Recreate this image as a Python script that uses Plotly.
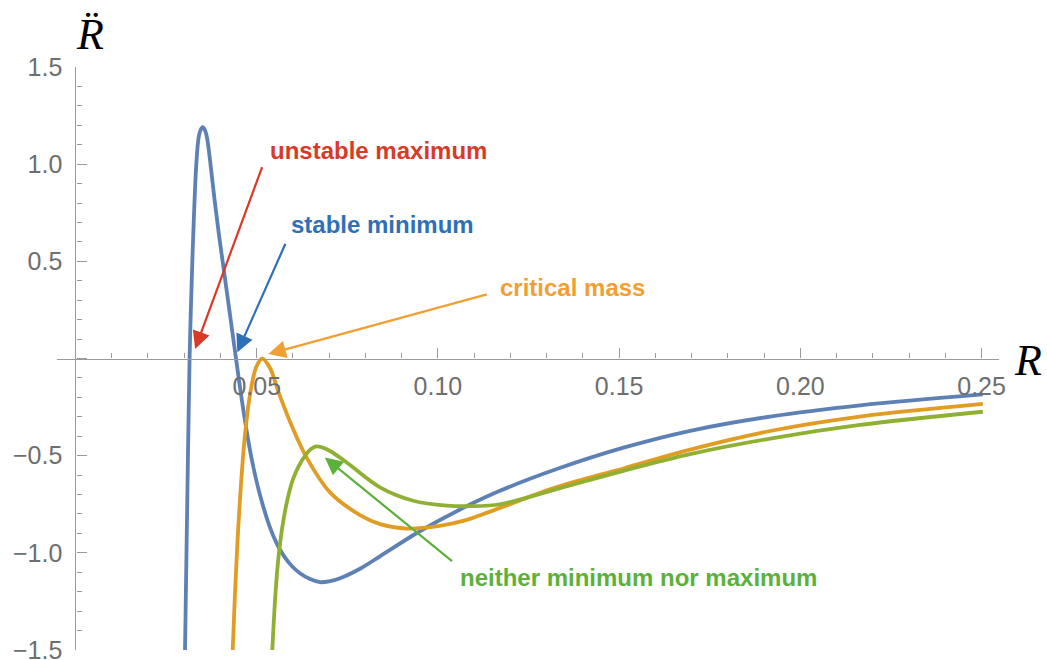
import plotly.graph_objects as go

# ---- data ----
blue_x = [0.03022, 0.03085, 0.03148, 0.03192, 0.03252, 0.03330, 0.03392, 0.03443, 0.03510,
          0.03579, 0.03634, 0.03730, 0.03835, 0.03949, 0.04076, 0.04203, 0.04329, 0.04429,
          0.04558, 0.04699, 0.04862, 0.05072, 0.05350, 0.05560, 0.05753, 0.05974, 0.06195,
          0.06471, 0.06747, 0.07000, 0.07300, 0.07850, 0.08400, 0.09500, 0.10610, 0.11710,
          0.13280, 0.15120, 0.16960, 0.19160, 0.21650, 0.25030]
blue_y = [-1.50, -0.72, 0.00, 0.31, 0.65, 0.99, 1.13, 1.172, 1.19,
          1.172, 1.13, 0.991, 0.821, 0.650, 0.478, 0.306, 0.135, 0.0,
          -0.174, -0.346, -0.518, -0.689, -0.861, -0.955, -1.017, -1.069, -1.105,
          -1.135, -1.151, -1.147, -1.131, -1.082, -1.018, -0.889, -0.777, -0.681,
          -0.569, -0.459, -0.372, -0.299, -0.241, -0.185]

orange_x = [0.04338, 0.04403, 0.04494, 0.04617, 0.04703, 0.04826, 0.04987, 0.05150, 0.05370,
            0.05596, 0.05966, 0.06402, 0.07023, 0.07850, 0.08402, 0.09139, 0.10044, 0.10748,
            0.11438, 0.13278, 0.15116, 0.16957, 0.19164, 0.21647, 0.25033]
orange_y = [-1.50, -1.20, -0.861, -0.518, -0.346, -0.173, -0.044, 0.0, -0.05,
            -0.17, -0.346, -0.518, -0.689, -0.806, -0.852, -0.875, -0.861, -0.833,
            -0.788, -0.662, -0.566, -0.469, -0.373, -0.299, -0.234]

green_x = [0.05430, 0.05520, 0.05596, 0.05712, 0.05850, 0.06002, 0.06167, 0.06347, 0.06498,
           0.06636, 0.06802, 0.07023, 0.07483, 0.08402, 0.09321, 0.10243, 0.10886, 0.11714,
           0.13278, 0.15116, 0.16957, 0.19164, 0.21647, 0.25033]
green_y = [-1.50, -1.204, -1.032, -0.861, -0.724, -0.621, -0.551, -0.497, -0.466,
           -0.452, -0.457, -0.476, -0.535, -0.663, -0.732, -0.757, -0.760, -0.750,
           -0.672, -0.578, -0.492, -0.412, -0.342, -0.274]

labels = ["unstable maximum", "stable minimum", "critical mass", "neither minimum nor maximum"]
label_colors = ["#d93a28", "#2f6fb7", "#f0a033", "#5cb13b"]
label_pos = [(0.0531, 1.068), (0.0589, 0.687), (0.1166, 0.363), (0.1055, -1.125)]
arrow_tips = [(0.0330, 0.049), (0.04465, 0.032), (0.0532, 0.023), (0.0688, -0.509)]
arrow_tails = [(0.05166, 0.993), (0.0581, 0.598), (0.1139, 0.332), (0.1043, -1.049)]

x_range = [-0.0051, 0.2548]
y_range = [-1.5, 1.5]

line_colors = ["#5E81B5", "#E19C24", "#8FB032"]

fig = go.Figure()
for xs, ys, c in [(blue_x, blue_y, line_colors[0]), (orange_x, orange_y, line_colors[1]),
                  (green_x, green_y, line_colors[2])]:
    fig.add_trace(go.Scatter(x=xs, y=ys, mode="lines",
                             line=dict(color=c, width=3.8, shape="spline", smoothing=1.0),
                             showlegend=False, hoverinfo="skip"))

axis_col = "#9a9a9a"
tick_font = dict(family="Liberation Sans, Arial, sans-serif", size=25, color="#6e6e6e")

ypos = (0 - x_range[0]) / (x_range[1] - x_range[0])
xpos = (0 - y_range[0]) / (y_range[1] - y_range[0])

fig.update_xaxes(range=x_range, anchor="free", position=xpos, showline=True, linecolor=axis_col,
                 linewidth=1.3, showgrid=False, zeroline=False, ticks="inside", ticklen=10,
                 tickwidth=1.2, tickcolor=axis_col, tick0=0, dtick=0.05, tickformat=".2f",
                 labelalias={"0.00": ""}, tickfont=tick_font, ticklabelstandoff=5,
                 ticklabeloverflow="allow", automargin=False,
                 minor=dict(dtick=0.01, tick0=0, ticks="inside", ticklen=5, tickwidth=1.1,
                            tickcolor=axis_col))
fig.update_yaxes(range=y_range, anchor="free", position=ypos, showline=True, linecolor=axis_col,
                 linewidth=1.3, showgrid=False, zeroline=False, ticks="inside", ticklen=10,
                 tickwidth=1.2, tickcolor=axis_col, tick0=0, dtick=0.5, tickformat=".1f",
                 labelalias={"0.0": ""}, tickfont=tick_font, ticklabelstandoff=8,
                 ticklabeloverflow="allow", automargin=False,
                 minor=dict(dtick=0.1, tick0=0, ticks="inside", ticklen=5, tickwidth=1.1,
                            tickcolor=axis_col))

for (tx, ty), (ax, ay), col in zip(arrow_tips, arrow_tails, label_colors):
    fig.add_annotation(x=tx, y=ty, ax=ax, ay=ay, xref="x", yref="y", axref="x", ayref="y",
                       text="", showarrow=True, arrowhead=2, arrowsize=1.6, arrowwidth=2.2,
                       arrowcolor=col, standoff=0, startstandoff=0)

for txt, (lx, ly), col in zip(labels, label_pos, label_colors):
    fig.add_annotation(x=lx, y=ly, xref="x", yref="y", text="<b>" + txt + "</b>",
                       showarrow=False, xanchor="left", yanchor="middle",
                       font=dict(family="Liberation Sans, Arial, sans-serif", size=24, color=col))

serif = dict(family="Liberation Serif, Times New Roman, serif", size=44, color="black")
fig.add_annotation(x=0.035, y=1.055, xref="paper", yref="paper", text="<i>R\u0308</i>",
                   showarrow=False, xanchor="center", yanchor="middle", font=serif)
fig.add_annotation(x=1.0308, y=0.497, xref="paper", yref="paper", text="<i>R</i>",
                   showarrow=False, xanchor="center", yanchor="middle", font=serif)

fig.update_layout(width=1047, height=660, margin=dict(l=57, r=48, t=67, b=10, autoexpand=False),
                  paper_bgcolor="white", plot_bgcolor="white")

fig.write_html("out.html", config={"displayModeBar": False},
               post_script="document.body.style.margin='0';document.body.style.padding='0';")
